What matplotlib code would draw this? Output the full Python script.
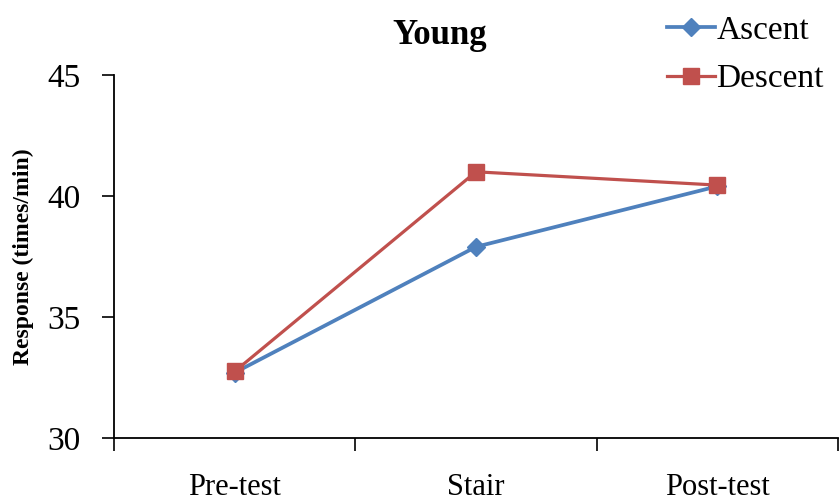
import matplotlib
matplotlib.use("Agg")
import matplotlib.pyplot as plt

categories = ["Pre-test", "Stair", "Post-test"]
ascent = [32.7, 37.9, 40.4]
descent = [32.75, 41.0, 40.45]
yticks = [30, 35, 40, 45]

plt.rcParams['font.family'] = ['Liberation Serif', 'DejaVu Serif']

fig = plt.figure(figsize=(8.39, 5.04), dpi=100)
ax = fig.add_axes([114/839, 1-438/504, (838-114)/839, (438-75)/504])

x = list(range(len(categories)))
ax.plot(x, ascent, color='#4F81BD', lw=2.7, marker='D', markersize=9, label='Ascent', zorder=2)
ax.plot(x, descent, color='#C0504D', lw=2.3, marker='s', markersize=11, label='Descent', zorder=3)

ax.set_xlim(-0.5, 2.5)
ax.set_ylim(30, 45)
ax.set_yticks(yticks)
ax.set_yticklabels([str(t) for t in yticks], fontsize=24)
ax.set_xticks([-0.5, 0.5, 1.5, 2.5])
ax.set_xticklabels([])
ax.set_xticks(x, minor=True)
ax.set_xticklabels(categories, minor=True, fontsize=22)
ax.tick_params(axis='x', which='minor', length=0, pad=25)
ax.tick_params(axis='x', which='major', length=9, width=1.2, direction='out')
ax.tick_params(axis='y', length=9, width=1.2, direction='out', pad=15)
for s in ['top', 'right']:
    ax.spines[s].set_visible(False)
for s in ['left', 'bottom']:
    ax.spines[s].set_linewidth(1.3)

ax.set_ylabel('Response (times/min)', fontsize=17, fontweight='bold', labelpad=10)
fig.text(440/839, 1-35/504, 'Young', fontsize=25, fontweight='bold', ha='center', va='center')

fig.legend(loc='upper right', bbox_to_anchor=(1.0, 1.0), frameon=False, fontsize=24,
           handlelength=1.45, handletextpad=0.05, labelspacing=0.55, borderaxespad=0.05)

fig.savefig('out.png', dpi=100)
